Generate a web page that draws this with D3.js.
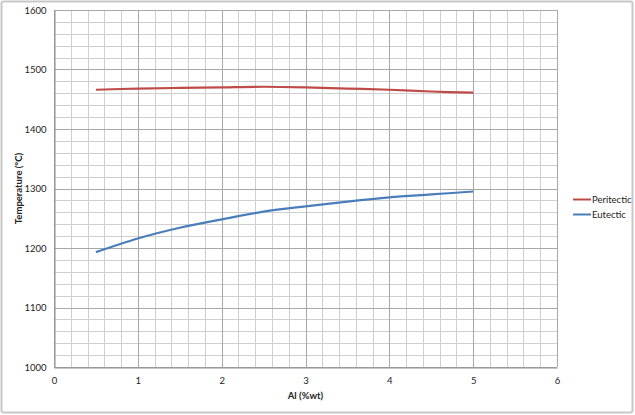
<!DOCTYPE html>
<html>
<head>
<meta charset="utf-8">
<script src="https://cdn.jsdelivr.net/npm/d3@7"></script>
<style>
body { margin: 0; background: #fff; }
text { font-family: Lato, "Open Sans", sans-serif; fill: #222; }
</style>
</head>
<body>
<div id="chart"></div>
<script>
// data
var alPct = [0.5, 1, 1.5, 2, 2.5, 3, 3.5, 4, 4.5, 5];
var peritectic = [1466, 1468, 1469, 1470, 1471, 1470, 1468, 1466, 1463, 1461];
var eutectic = [1193, 1216, 1234, 1248, 1261, 1270, 1278, 1285, 1290, 1295];
var seriesNames = ["Peritectic", "Eutectic"];
var seriesColors = ["#BE4B48", "#4A7EBB"];
var xTicks = [0, 1, 2, 3, 4, 5, 6];
var yTicks = [1000, 1100, 1200, 1300, 1400, 1500, 1600];

var W = 635, H = 415;
var margin = { top: 10, right: 78, bottom: 48, left: 54 },
    width = W - margin.left - margin.right,
    height = H - margin.top - margin.bottom;

var svg = d3.select("#chart").append("svg")
    .attr("width", W)
    .attr("height", H);

// chart area border
svg.append("rect")
    .attr("x", 1.5).attr("y", 1.5)
    .attr("width", W - 4).attr("height", H - 4)
    .attr("rx", 2)
    .attr("fill", "#fff")
    .attr("stroke", "#c8c8c8")
    .attr("stroke-width", 2);

var g = svg.append("g")
    .attr("transform", "translate(" + margin.left + "," + margin.top + ")");

var x = d3.scaleLinear().domain([0, 6]).range([0, width]);
var y = d3.scaleLinear().domain([1000, 1600]).range([height, 0]);

// minor gridlines
g.append("g")
    .selectAll("line")
    .data(d3.range(0, 6.001, 0.2))
    .enter().append("line")
    .attr("x1", function (d) { return Math.round(x(d)) + 0.5; })
    .attr("x2", function (d) { return Math.round(x(d)) + 0.5; })
    .attr("y1", 0).attr("y2", height)
    .attr("stroke", "#cfcfcf");

g.append("g")
    .selectAll("line")
    .data(d3.range(1000, 1600.1, 20))
    .enter().append("line")
    .attr("y1", function (d) { return Math.round(y(d)) + 0.5; })
    .attr("y2", function (d) { return Math.round(y(d)) + 0.5; })
    .attr("x1", 0).attr("x2", width)
    .attr("stroke", "#cfcfcf");

// major gridlines
g.append("g")
    .selectAll("line")
    .data(xTicks)
    .enter().append("line")
    .attr("x1", function (d) { return Math.round(x(d)) + 0.5; })
    .attr("x2", function (d) { return Math.round(x(d)) + 0.5; })
    .attr("y1", 0).attr("y2", height)
    .attr("stroke", "#a8a8a8");

g.append("g")
    .selectAll("line")
    .data(yTicks)
    .enter().append("line")
    .attr("y1", function (d) { return Math.round(y(d)) + 0.5; })
    .attr("y2", function (d) { return Math.round(y(d)) + 0.5; })
    .attr("x1", 0).attr("x2", width)
    .attr("stroke", "#a8a8a8");

// axes
var xAxis = g.append("g")
    .attr("transform", "translate(0," + (Math.round(height) + 0.5) + ")")
    .call(d3.axisBottom(x).tickValues(xTicks).tickSize(0).tickPadding(10).tickFormat(d3.format("d")));
var yAxis = g.append("g")
    .attr("transform", "translate(0.5,0)")
    .call(d3.axisLeft(y).tickValues(yTicks).tickSize(0).tickPadding(8).tickFormat(d3.format("d")));

[xAxis, yAxis].forEach(function (a) {
    a.select(".domain").attr("stroke", "#8c8c8c");
    a.selectAll("text").style("font-size", "9.5px").attr("fill", "#222");
});

// series lines
var lines = [peritectic, eutectic];
var line = d3.line()
    .x(function (d, i) { return x(alPct[i]); })
    .y(function (d) { return y(d); })
    .curve(d3.curveCatmullRom);

lines.forEach(function (vals, k) {
    g.append("path")
        .datum(vals)
        .attr("fill", "none")
        .attr("stroke", seriesColors[k])
        .attr("stroke-width", 2.2)
        .attr("d", line);
});

// axis titles
svg.append("text")
    .attr("x", margin.left + width / 2)
    .attr("y", 399)
    .style("text-anchor", "middle")
    .style("font-size", "9.5px")
    .style("font-weight", "bold")
    .text("Al (%wt)");

svg.append("text")
    .attr("transform", "translate(22," + (margin.top + height / 2) + ") rotate(-90)")
    .style("text-anchor", "middle")
    .style("font-size", "9.5px")
    .style("font-weight", "bold")
    .text("Temperature (°C)");

// legend
var legend = svg.append("g").attr("transform", "translate(573,199)");
seriesNames.forEach(function (name, k) {
    var row = legend.append("g").attr("transform", "translate(0," + k * 15 + ")");
    row.append("line")
        .attr("x1", 0).attr("x2", 18)
        .attr("y1", 0.5).attr("y2", 0.5)
        .attr("stroke", seriesColors[k])
        .attr("stroke-width", 2);
    row.append("text")
        .attr("x", 19).attr("y", 3.5)
        .style("font-size", "9.5px")
        .text(name);
});
</script>
</body>
</html>
